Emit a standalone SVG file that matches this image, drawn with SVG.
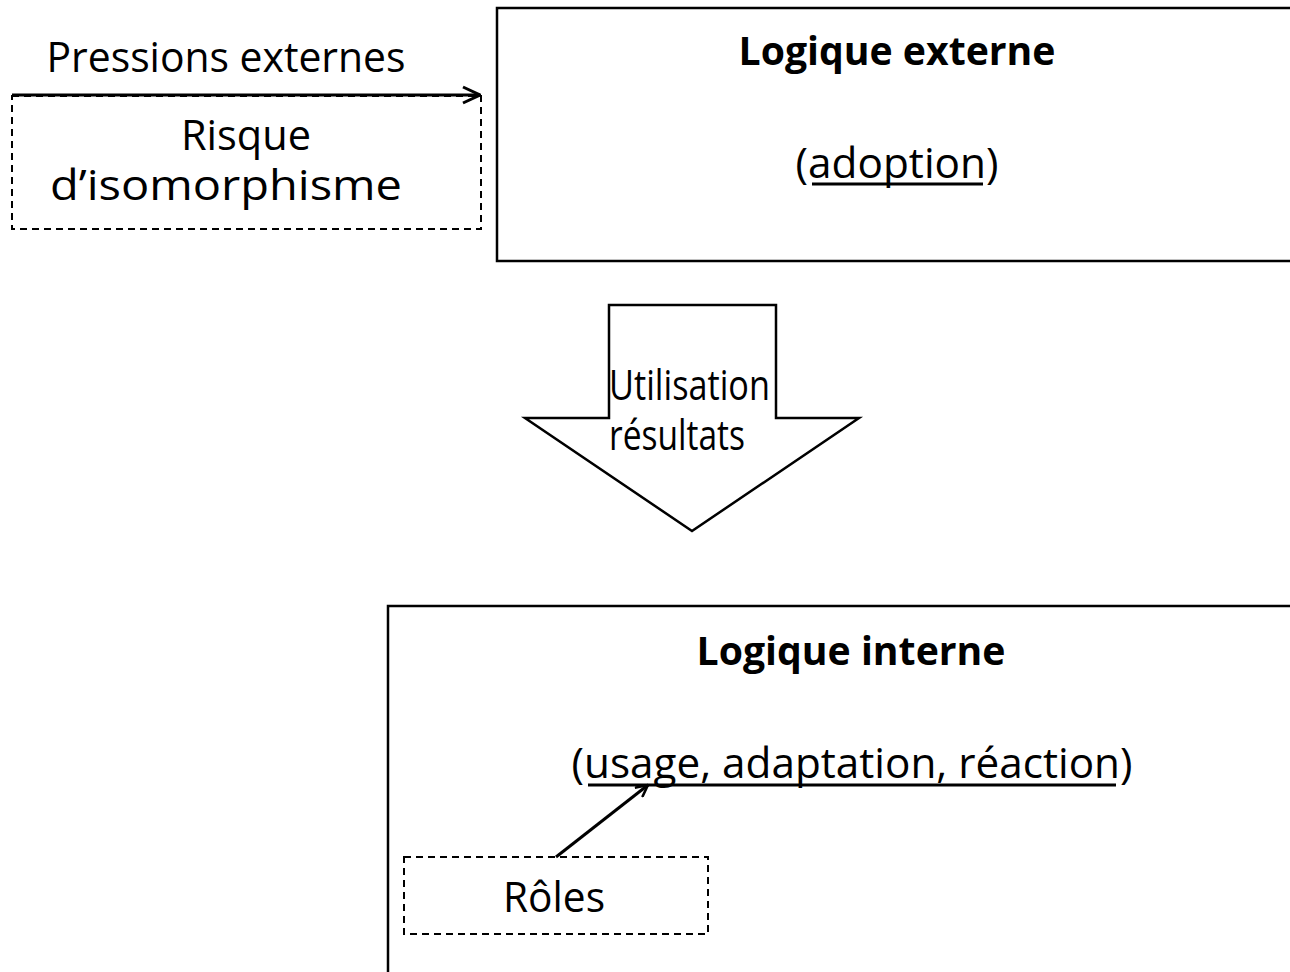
<svg xmlns="http://www.w3.org/2000/svg" width="1290" height="972" viewBox="0 0 1290 972">
<style>
text{font-family:"Open Sans","Liberation Sans",sans-serif;fill:#000}
.t{font-size:42px}
.b{font-size:40px;font-weight:bold}
.box{fill:#fff;stroke:#000;stroke-width:2.5}
.dash{fill:none;stroke:#000;stroke-width:2;stroke-dasharray:7 5}
.con{fill:none;stroke:#000;stroke-width:3}
.ul{stroke:#000;stroke-width:3}
</style>
<defs>
<marker id="open" viewBox="0 0 14 14" refX="13" refY="7" markerWidth="14" markerHeight="14" markerUnits="userSpaceOnUse" orient="auto">
<path d="M1,1 L13,7 L1,13" fill="none" stroke="#000" stroke-width="2.5"/>
</marker>
<marker id="open2" viewBox="0 0 20 20" refX="19" refY="10" markerWidth="20" markerHeight="20" markerUnits="userSpaceOnUse" orient="auto">
<path d="M2,2 L19,10 L2,18" fill="none" stroke="#000" stroke-width="3"/>
</marker>
</defs>
<rect width="1290" height="972" fill="#fff"/>

<g id="logique-externe">
<rect class="box" x="497" y="8" width="810" height="253"/>
<text class="b" x="897" y="65" text-anchor="middle" textLength="317" lengthAdjust="spacingAndGlyphs">Logique externe</text>
<text class="t" x="897" y="178" text-anchor="middle" textLength="203" lengthAdjust="spacingAndGlyphs">(adoption)</text>
<line class="ul" x1="812" y1="184" x2="983" y2="184"/>
</g>

<g id="risque">
<rect class="dash" x="12" y="96" width="469" height="133"/>
<text class="t" x="246" y="150" text-anchor="middle" textLength="130" lengthAdjust="spacingAndGlyphs">Risque</text>
<text class="t" x="226" y="200" text-anchor="middle" textLength="352" lengthAdjust="spacingAndGlyphs">d’isomorphisme</text>
</g>

<g id="utilisation">
<path class="box" d="M609,305 L776,305 L776,418 L859,418 L692,531 L525,418 L609,418 Z" stroke-width="1.8"/>
<text class="t" x="609" y="400" textLength="161" lengthAdjust="spacingAndGlyphs">Utilisation</text>
<text class="t" x="609" y="450" textLength="136" lengthAdjust="spacingAndGlyphs">résultats</text>
</g>

<g id="logique-interne">
<rect class="box" x="388" y="606" width="920" height="380"/>
<text class="b" x="851" y="665" text-anchor="middle" textLength="309" lengthAdjust="spacingAndGlyphs">Logique interne</text>
<text class="t" x="852" y="778" text-anchor="middle" textLength="561" lengthAdjust="spacingAndGlyphs">(usage, adaptation, réaction)</text>
<line class="ul" x1="588" y1="785" x2="1116" y2="785"/>
</g>

<g id="roles">
<rect class="dash" x="404" y="857" width="304" height="77"/>
<text class="t" x="554" y="912" text-anchor="middle" textLength="102" lengthAdjust="spacingAndGlyphs">Rôles</text>
</g>

<g id="connectors">
<line class="con" x1="12" y1="95" x2="480" y2="95" marker-end="url(#open2)"/>
<text class="t" x="226" y="72" text-anchor="middle" textLength="359" lengthAdjust="spacingAndGlyphs">Pressions externes</text>
<line class="con" x1="556" y1="857" x2="648" y2="785" stroke-width="2.2" marker-end="url(#open)"/>
</g>
</svg>
